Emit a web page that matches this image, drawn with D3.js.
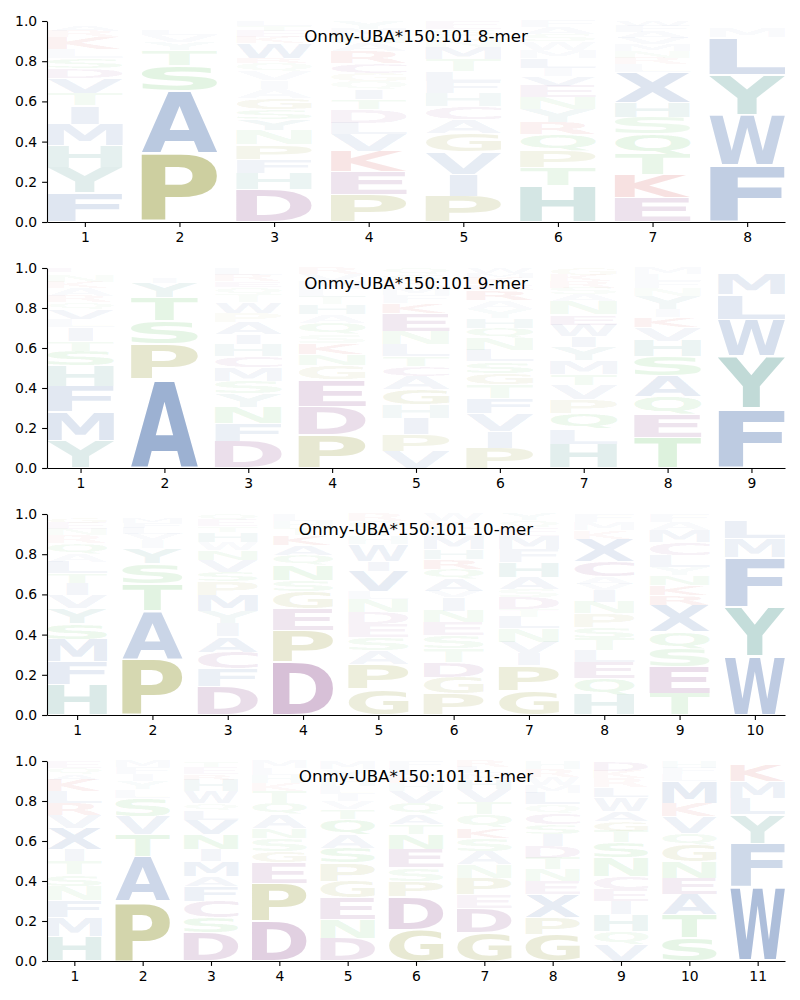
<!DOCTYPE html>
<html><head><meta charset="utf-8">
<script src="https://cdn.jsdelivr.net/npm/d3@7"></script>
<style>body{margin:0;background:#fff} svg{display:block}</style>
</head><body>
<script>
const titles = ["Onmy-UBA*150:101 8-mer","Onmy-UBA*150:101 9-mer","Onmy-UBA*150:101 10-mer","Onmy-UBA*150:101 11-mer"];
const yTicks = [0,0.2,0.4,0.6,0.8,1.0];

// each column: [letter, probability] from bottom to top
const logo8 = [
 [["F",.144],["Y",.129],["H",.108],["M",.106],["I",.091],["T",.063],["V",.075],["D",.05],["S",.05],["L",.045],["K",.06],["R",.03],["A",.025],["N",.02],["Q",.004]],
 [["P",.34],["A",.31],["S",.128],["T",.078],["Y",.038],["V",.035],["L",.025],["M",.02],["I",.02],["F",.006]],
 [["D",.161],["H",.083],["F",.07],["P",.071],["N",.071],["Y",.053],["S",.05],["G",.058],["A",.045],["I",.041],["V",.046],["Q",.041],["R",.025],["W",.075],["K",.03],["E",.03],["T",.025],["L",.025]],
 [["P",.136],["E",.113],["K",.1],["V",.086],["L",.058],["D",.066],["T",.05],["I",.05],["Q",.04],["G",.04],["C",.05],["R",.06],["A",.04],["N",.04],["M",.03],["Y",.041]],
 [["P",.128],["I",.108],["V",.111],["G",.093],["A",.07],["C",.066],["H",.066],["F",.058],["L",.05],["T",.058],["M",.06],["N",.03],["Q",.03],["S",.03],["E",.042]],
 [["H",.179],["T",.091],["P",.083],["Q",.083],["R",.058],["Y",.066],["N",.058],["E",.058],["V",.05],["I",.041],["L",.05],["M",.04],["W",.04],["S",.035],["A",.035],["F",.033]],
 [["E",.121],["K",.116],["T",.1],["Q",.1],["S",.083],["H",.075],["X",.149],["L",.041],["R",.03],["N",.035],["M",.035],["V",.03],["A",.03],["F",.03],["W",.025]],
 [["F",.282],["W",.252],["Y",.199],["L",.186],["M",.046],["I",.02],["V",.015]]
];
const logo9 = [
 [["Y",.135],["M",.145],["F",.13],["H",.1],["S",.075],["T",.05],["I",.067],["L",.042],["V",.05],["Q",.033],["R",.03],["A",.04],["K",.03],["N",.03],["W",.02],["E",.023]],
 [["A",.448],["P",.173],["S",.113],["T",.117],["Y",.075],["I",.028],["V",.02],["L",.015],["F",.011]],
 [["D",.135],["F",.087],["N",.08],["Y",.07],["S",.062],["M",.067],["C",.058],["H",.062],["I",.05],["A",.058],["P",.047],["W",.053],["T",.04],["Q",.035],["E",.03],["R",.03],["L",.036]],
 [["P",.165],["D",.142],["E",.133],["G",.073],["N",.055],["K",.055],["S",.045],["Q",.058],["A",.042],["H",.05],["T",.038],["L",.04],["M",.04],["V",.034],["R",.03]],
 [["V",.085],["P",.083],["I",.08],["H",.07],["G",.075],["A",.067],["C",.05],["T",.05],["L",.058],["N",.067],["E",.09],["K",.05],["F",.04],["M",.04],["R",.035],["S",.03],["Q",.03]],
 [["P",.1],["I",.083],["V",.088],["F",.075],["T",.07],["G",.058],["S",.058],["L",.058],["N",.058],["Q",.053],["H",.05],["Y",.045],["A",.042],["R",.05],["E",.03],["K",.03],["M",.025],["W",.027]],
 [["H",.12],["L",.075],["Q",.077],["P",.07],["V",.072],["T",.053],["M",.07],["Y",.068],["I",.053],["W",.058],["E",.05],["N",.067],["A",.033],["S",.035],["R",.035],["K",.03],["G",.034]],
 [["T",.152],["E",.113],["Q",.095],["A",.1],["S",.097],["H",.078],["V",.067],["K",.05],["I",.042],["Y",.067],["N",.04],["F",.035],["L",.034],["M",.03]],
 [["F",.297],["Y",.263],["W",.183],["L",.125],["M",.1],["I",.017],["V",.015]]
];
const logo10 = [
 [["H",.151],["F",.113],["M",.113],["S",.078],["Y",.075],["V",.066],["I",.058],["T",.05],["L",.058],["A",.041],["Q",.05],["R",.041],["N",.03],["E",.03],["G",.025],["W",.021]],
 [["P",.28],["A",.24],["T",.133],["S",.1],["Y",.075],["I",.041],["V",.03],["L",.03],["F",.025],["M",.025],["E",.021]],
 [["D",.143],["F",.088],["C",.083],["A",.075],["I",.066],["Y",.058],["M",.083],["P",.066],["S",.05],["V",.058],["N",.05],["W",.041],["H",.05],["T",.03],["E",.03],["Q",.029]],
 [["D",.267],["P",.154],["E",.108],["G",.083],["S",.058],["N",.075],["Q",.05],["A",.05],["K",.05],["T",.035],["H",.035],["L",.035]],
 [["G",.129],["P",.124],["A",.066],["S",.066],["E",.066],["D",.058],["N",.066],["L",.04],["V",.1],["I",.05],["W",.083],["H",.04],["T",.035],["Q",.04],["R",.037]],
 [["P",.104],["G",.083],["D",.075],["T",.066],["S",.066],["E",.066],["N",.058],["I",.066],["V",.033],["A",.058],["Q",.05],["R",.05],["H",.05],["M",.066],["L",.035],["K",.037],["W",.037]],
 [["G",.123],["P",.124],["I",.058],["V",.058],["N",.066],["L",.058],["T",.041],["D",.058],["S",.041],["A",.058],["H",.075],["F",.066],["M",.066],["E",.04],["Q",.035],["Y",.033]],
 [["H",.101],["Q",.08],["E",.083],["L",.058],["T",.058],["S",.058],["P",.066],["N",.058],["I",.058],["V",.033],["A",.033],["C",.075],["X",.116],["K",.04],["M",.04],["F",.043]],
 [["T",.106],["E",.133],["S",.091],["Q",.083],["X",.133],["R",.05],["K",.05],["N",.05],["Y",.041],["L",.058],["C",.066],["M",.058],["A",.04],["F",.041]],
 [["W",.294],["Y",.244],["F",.244],["M",.096],["L",.091],["I",.016],["V",.015]]
];
const logo11 = [
 [["H",.123],["M",.095],["F",.083],["N",.072],["S",.058],["T",.067],["I",.058],["X",.108],["V",.067],["R",.058],["L",.058],["K",.058],["A",.03],["Q",.03],["E",.035]],
 [["P",.298],["A",.225],["T",.108],["V",.092],["S",.092],["L",.042],["Y",.04],["I",.035],["F",.035],["M",.033]],
 [["D",.14],["S",.075],["C",.083],["F",.075],["A",.05],["M",.075],["I",.058],["N",.075],["V",.075],["L",.05],["Q",.033],["W",.058],["H",.058],["R",.03],["E",.035],["T",.03]],
 [["D",.198],["P",.192],["E",.1],["G",.058],["S",.067],["N",.05],["A",.067],["Q",.058],["T",.058],["K",.04],["H",.04],["L",.035],["M",.037]],
 [["D",.115],["N",.092],["E",.108],["G",.083],["P",.092],["S",.075],["A",.067],["Q",.075],["T",.05],["V",.04],["I",.035],["L",.042],["H",.04],["Y",.043],["M",.043]],
 [["G",.157],["D",.167],["P",.075],["S",.067],["E",.092],["N",.075],["T",.05],["A",.05],["Q",.058],["V",.058],["H",.04],["K",.04],["L",.035],["F",.036]],
 [["G",.14],["D",.125],["E",.067],["P",.083],["N",.067],["A",.067],["S",.067],["K",.05],["Q",.067],["T",.058],["V",.067],["H",.05],["M",.03],["L",.031],["R",.031]],
 [["G",.133],["P",.083],["X",.117],["E",.067],["N",.058],["T",.058],["D",.058],["I",.058],["S",.05],["C",.058],["Q",.042],["L",.058],["M",.04],["W",.04],["R",.04],["H",.041]],
 [["V",.083],["Q",.067],["H",.083],["I",.067],["E",.058],["C",.067],["N",.092],["S",.075],["T",.058],["G",.05],["A",.05],["W",.067],["L",.05],["R",.045],["K",.038],["D",.05]],
 [["S",.115],["T",.117],["A",.1],["E",.083],["N",.083],["G",.083],["Q",.058],["V",.083],["K",.067],["M",.108],["L",.035],["F",.034],["H",.034]],
 [["W",.368],["F",.218],["Y",.145],["L",.083],["M",.083],["K",.083],["I",.02]]
];

const groups = {AVLIMFWX:"#466dac", YH:"#388a80", PG:"#858a17", DEC:"#823a82", STNQ:"#48b748", KR:"#c82828"};
function colorOf(ch){ for (const k in groups) if (k.includes(ch)) return groups[k]; return "#888"; }
const alphaOf = p => Math.min(1, 1.2*p);

const W = 800, H = 1000;
const svg = d3.select("body").append("svg").attr("width",W).attr("height",H);

const FS = 200;
const ctx = document.createElement("canvas").getContext("2d");
ctx.font = `bold ${FS}px "DejaVu Sans"`;
const inkCache = {};
function ink(ch){
  if (!inkCache[ch]) {
    const m = ctx.measureText(ch);
    inkCache[ch] = {x:-m.actualBoundingBoxLeft, y:-m.actualBoundingBoxAscent,
      w:m.actualBoundingBoxLeft+m.actualBoundingBoxRight, h:m.actualBoundingBoxAscent+m.actualBoundingBoxDescent};
  }
  return inkCache[ch];
}

const panels = [
  {data:logo8, title:titles[0], top:21, bottom:222},
  {data:logo9, title:titles[1], top:268, bottom:468},
  {data:logo10, title:titles[2], top:514, bottom:715},
  {data:logo11, title:titles[3], top:761, bottom:961}
];
const left = 47, right = 785, vpad = 0.05, colW = 0.8;

panels.forEach(p => {
  const n = p.data.length;
  const x = d3.scaleLinear().domain([0.6, n+0.4]).range([left, right]);
  const y = d3.scaleLinear().domain([0,1]).range([p.bottom, p.top]);
  const g = svg.append("g");
  const bE = ink("E");
  p.data.forEach((col, i) => {
    const pos = i+1;
    const tot = d3.sum(col, d => d[1]);
    let cum = 0;
    const wBox = x(pos+colW/2) - x(pos-colW/2);
    col.forEach(([ch, v]) => {
      const pv = v/tot;
      const y0 = cum, y1 = cum+pv; cum = y1;
      const pad = vpad*pv/2;
      const top = y(y1-pad), bot = y(y0+pad);
      const h = bot-top;
      const b = ink(ch);
      const sx = Math.min(wBox/b.w, wBox/bE.w), sy = h/b.h;
      g.append("text").text(ch)
        .attr("font-family","DejaVu Sans").attr("font-weight","bold").attr("font-size",FS)
        .attr("transform",`translate(${x(pos)-b.w*sx/2},${top}) scale(${sx},${sy}) translate(${-b.x},${-b.y})`)
        .attr("fill", colorOf(ch)).attr("fill-opacity", alphaOf(pv));
    });
  });
  const ya = svg.append("g").attr("transform",`translate(${left},0)`)
    .call(d3.axisLeft(y).tickValues(yTicks).tickFormat(d3.format(".1f")).tickSize(4.9).tickSizeOuter(0).tickPadding(4.9));
  const xa = svg.append("g").attr("transform",`translate(0,${p.bottom})`)
    .call(d3.axisBottom(x).tickValues(d3.range(1,n+1)).tickFormat(d3.format("d")).tickSize(4.9).tickSizeOuter(0).tickPadding(4.9));
  [ya, xa].forEach(a => {
    a.selectAll("text").attr("font-family","DejaVu Sans").attr("font-size","13.9px").attr("fill","#000");
    a.selectAll("line").attr("stroke","#000").attr("stroke-width",1.1);
    a.select(".domain").attr("stroke","#000").attr("stroke-width",1.1);
  });
  svg.append("text").text(p.title).attr("x",(left+right)/2).attr("y",p.top+20.7)
    .attr("text-anchor","middle").attr("font-family","DejaVu Sans").attr("font-size","16.7px").attr("fill","#000");
});
</script>
</body></html>
